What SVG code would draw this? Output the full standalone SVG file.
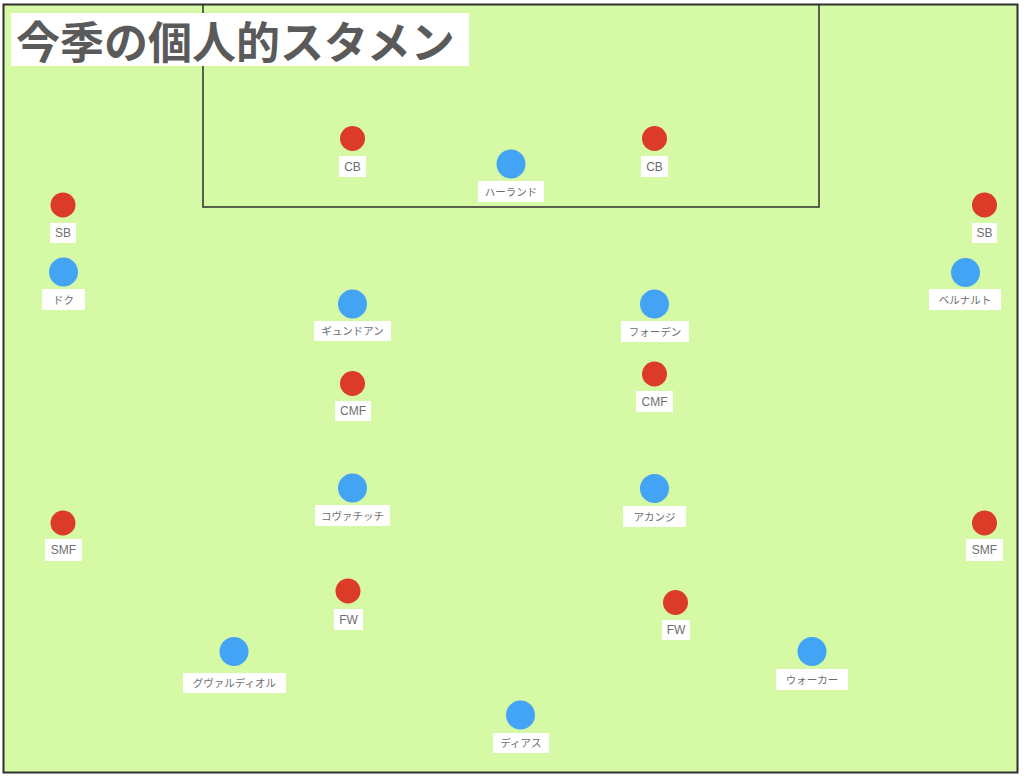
<svg xmlns="http://www.w3.org/2000/svg" width="1024" height="779" viewBox="0 0 1024 779">
<style>
.field{fill:#d6f9a6;stroke:#2f2f2f;stroke-width:2}
.box{fill:none;stroke:#2f2f2f;stroke-width:1.5}
.red{fill:#dc3b27}
.blue{fill:#43a4f5}
.lb{fill:#ffffff}
.lt{font-family:"Liberation Sans","Noto Sans CJK JP",sans-serif;font-size:12px;fill:#6e6e6e;text-anchor:middle;dominant-baseline:central}
.jp{font-size:10.5px}
.title{font-family:"Noto Sans CJK JP",sans-serif;font-weight:bold;font-size:44px;fill:#5a5a5a;dominant-baseline:central}
</style>
<rect x="0" y="0" width="1024" height="779" fill="#ffffff"/>
<rect class="field" x="3.5" y="4.5" width="1014" height="768"/>
<path class="box" d="M203 4.5 V207 H819 V4.5"/>
<g id="title"><rect x="11" y="13" width="458" height="53" fill="#ffffff"/><text class="title" x="16" y="40">今季の個人的スタメン</text></g>
<g id="cb-left"><circle class="red" cx="352.5" cy="138.5" r="12.5"/><rect class="lb" x="339" y="156" width="27" height="21"/><text class="lt" x="352.5" y="166.5">CB</text></g>
<g id="cb-right"><circle class="red" cx="654.5" cy="138.5" r="12.5"/><rect class="lb" x="641" y="156" width="27" height="21"/><text class="lt" x="654.5" y="166.5">CB</text></g>
<g id="haaland"><circle class="blue" cx="511" cy="164" r="14.5"/><rect class="lb" x="478" y="181" width="66" height="21"/><text class="lt jp" x="511" y="191.5">ハーランド</text></g>
<g id="sb-left"><circle class="red" cx="63" cy="205" r="12.5"/><rect class="lb" x="50" y="223" width="26" height="20"/><text class="lt" x="63" y="233">SB</text></g>
<g id="sb-right"><circle class="red" cx="984.5" cy="205" r="12.5"/><rect class="lb" x="972" y="223" width="25" height="20"/><text class="lt" x="984.5" y="233">SB</text></g>
<g id="doku"><circle class="blue" cx="63.5" cy="272" r="14.5"/><rect class="lb" x="42" y="289" width="43" height="21"/><text class="lt jp" x="63.5" y="299.5">ドク</text></g>
<g id="bernardo"><circle class="blue" cx="965.5" cy="272.5" r="14.5"/><rect class="lb" x="929" y="289" width="72" height="21"/><text class="lt jp" x="965" y="299.5">ベルナルト</text></g>
<g id="gundogan"><circle class="blue" cx="352.5" cy="304" r="14.5"/><rect class="lb" x="314" y="321" width="77" height="20"/><text class="lt jp" x="352.5" y="331">ギュンドアン</text></g>
<g id="foden"><circle class="blue" cx="654.5" cy="304" r="14.5"/><rect class="lb" x="621" y="321" width="68" height="21"/><text class="lt jp" x="655" y="331.5">フォーデン</text></g>
<g id="cmf-left"><circle class="red" cx="352.5" cy="383.5" r="12.5"/><rect class="lb" x="335" y="401" width="36" height="20"/><text class="lt" x="353" y="411">CMF</text></g>
<g id="cmf-right"><circle class="red" cx="654.5" cy="374" r="12.5"/><rect class="lb" x="636" y="391" width="37" height="21"/><text class="lt" x="654.5" y="401.5">CMF</text></g>
<g id="kovacic"><circle class="blue" cx="352.5" cy="488" r="14.5"/><rect class="lb" x="315" y="505" width="75" height="21"/><text class="lt jp" x="352.5" y="515.5">コヴァチッチ</text></g>
<g id="akanji"><circle class="blue" cx="654.5" cy="488.5" r="14.5"/><rect class="lb" x="623" y="506" width="63" height="21"/><text class="lt jp" x="654.5" y="516.5">アカンジ</text></g>
<g id="smf-left"><circle class="red" cx="63" cy="523" r="12.5"/><rect class="lb" x="45" y="539" width="37" height="22"/><text class="lt" x="63.5" y="550">SMF</text></g>
<g id="smf-right"><circle class="red" cx="984.5" cy="523" r="12.5"/><rect class="lb" x="966" y="539" width="37" height="22"/><text class="lt" x="984.5" y="550">SMF</text></g>
<g id="fw-left"><circle class="red" cx="348" cy="591" r="12.5"/><rect class="lb" x="334" y="609" width="29" height="21"/><text class="lt" x="348.5" y="619.5">FW</text></g>
<g id="fw-right"><circle class="red" cx="675.5" cy="602.5" r="12.5"/><rect class="lb" x="662" y="620" width="28" height="20"/><text class="lt" x="676" y="630">FW</text></g>
<g id="gvardiol"><circle class="blue" cx="234" cy="651.5" r="14.5"/><rect class="lb" x="183" y="673" width="103" height="20"/><text class="lt jp" x="234.5" y="683">グヴァルディオル</text></g>
<g id="walker"><circle class="blue" cx="812" cy="651.5" r="14.5"/><rect class="lb" x="776" y="669" width="72" height="21"/><text class="lt jp" x="812" y="679.5">ウォーカー</text></g>
<g id="dias"><circle class="blue" cx="520.5" cy="715" r="14.5"/><rect class="lb" x="493" y="733" width="56" height="20"/><text class="lt jp" x="521" y="743">ディアス</text></g>
<g id="connectors"></g>
</svg>
